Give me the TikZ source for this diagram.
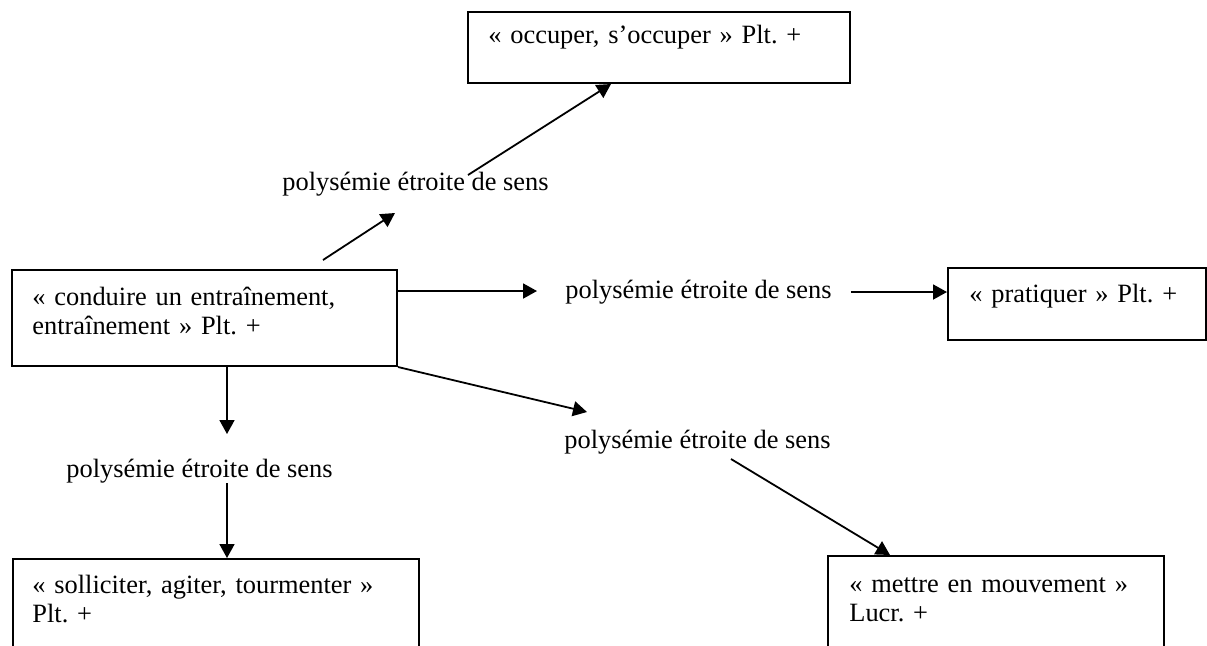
\documentclass[tikz,border=0pt]{standalone}
\usepackage{fontspec}
\setmainfont{Liberation Serif}
\usetikzlibrary{arrows.meta,calc}
\frenchspacing

\tikzset{
  boite/.style 2 args={draw, line width=1pt, anchor=north west, inner sep=0pt,
    minimum width=#1, minimum height=#2},
  texte/.style={anchor=base west, inner sep=0pt, text width=200pt, align=left},
  sens/.style={anchor=base west, inner sep=0pt},
  fleche/.style={-{Triangle[length=7pt,width=7.5pt]}, line width=0.9pt},
}

\begin{document}
\begin{tikzpicture}[x=0.5pt, y=-0.5pt, font=\fontsize{13.2pt}{14.8pt}\selectfont]
  % Page
  \path[use as bounding box, fill=white] (0,0) rectangle (1207,645);

  % Draw the boxes
  \node[boite={191pt}{35.5pt}] (occuper) at (467,11) {};
  \node[boite={192.5pt}{48pt}] (conduire) at (11,269) {};
  \node[boite={129pt}{36pt}] (pratiquer) at (947,267) {};
  \node[boite={203pt}{51pt}] (solliciter) at (12,558) {};
  \node[boite={168pt}{52.5pt}] (mettre) at (827,555) {};

  % Texts of the boxes
  \node[texte] (t-occuper) at (488,43) {« occuper, s’occuper » Plt. +};
  \node[texte] (t-conduire) at (32,305) {« conduire un entraînement,\\ entraînement » Plt. +};
  \node[texte] (t-pratiquer) at (969,302) {« pratiquer » Plt. +};
  \node[texte] (t-solliciter) at (32,593) {« solliciter, agiter, tourmenter »\\ Plt. +};
  \node[texte] (t-mettre) at (849,592) {« mettre en mouvement »\\ Lucr. +};

  % Labels on the arrows
  \node[sens] (sens-haut) at (282,190) {polysémie étroite de sens};
  \node[sens] (sens-droite) at (565,298) {polysémie étroite de sens};
  \node[sens] (sens-bas) at (564,448) {polysémie étroite de sens};
  \node[sens] (sens-gauche) at (66,477) {polysémie étroite de sens};

  % Draw the arrows
  \draw[fleche] ($(conduire.north west)+(312,-9)$) -- ($(sens-haut.base west)+(113,23)$);
  \draw[fleche] ($(sens-haut.base west)+(186,-15)$) -- ($(occuper.south west)+(144,0)$);
  \draw[fleche] ($(conduire.north east)+(0,22)$) -- ($(sens-droite.base west)+(-28,-7)$);
  \draw[fleche] ($(sens-droite.base east)+(19,-6)$) -- ($(pratiquer.north west)+(0,25)$);
  \draw[fleche] (conduire.south east) -- ($(sens-bas.base west)+(23,-36)$);
  \draw[fleche] ($(sens-bas.base west)+(167,11)$) -- ($(mettre.north west)+(63,0)$);
  \draw[fleche] ($(conduire.south west)+(216,0)$) -- ($(sens-gauche.base west)+(161,-43)$);
  \draw[fleche] ($(sens-gauche.base west)+(161,6)$) -- ($(solliciter.north west)+(215,0)$);
\end{tikzpicture}
\end{document}
